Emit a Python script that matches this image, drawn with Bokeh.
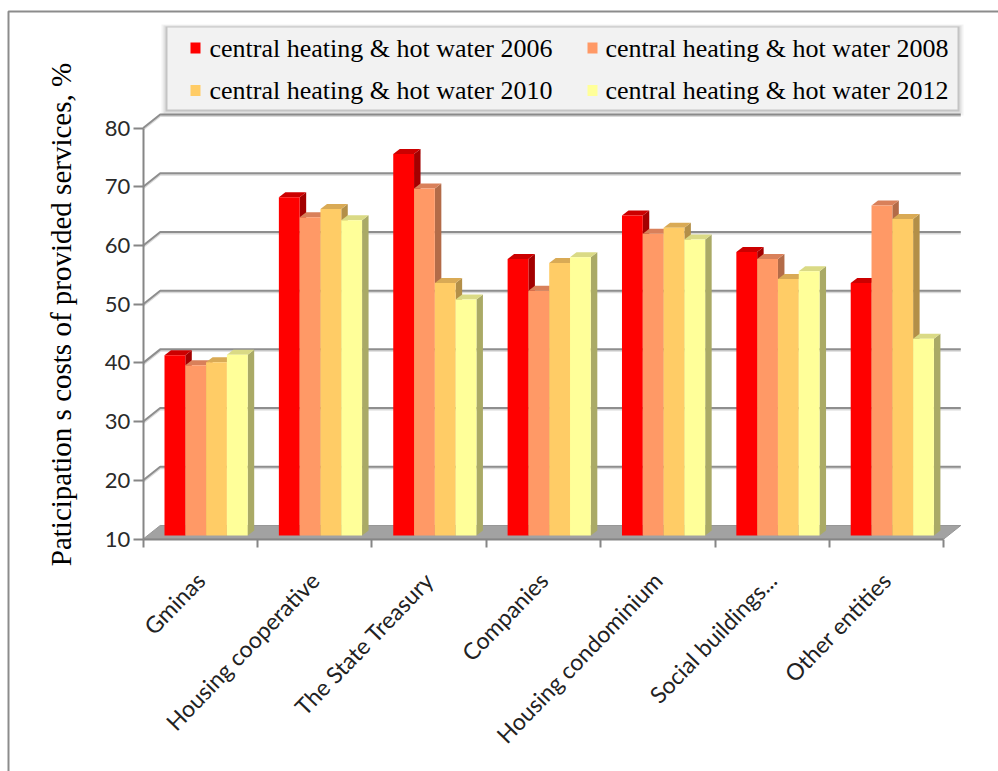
import math

from bokeh.core.properties import value
from bokeh.embed import file_html
from bokeh.models import FixedTicker, LinearAxis, Range1d
from bokeh.plotting import figure
from bokeh.resources import INLINE

# ---------------------------------------------------------------- data
categories = [
    "Gminas",
    "Housing cooperative",
    "The State Treasury",
    "Companies",
    "Housing condominium",
    "Social buildings...",
    "Other entities",
]
series_names = [
    "central heating & hot water 2006",
    "central heating & hot water 2008",
    "central heating & hot water 2010",
    "central heating & hot water 2012",
]
values_2006 = [40.7, 67.6, 75.0, 57.1, 64.5, 58.3, 53.0]
values_2008 = [39.0, 64.2, 69.1, 51.7, 61.4, 57.1, 66.2]
values_2010 = [39.5, 65.6, 53.0, 56.4, 62.4, 53.7, 63.9]
values_2012 = [40.8, 63.7, 50.2, 57.4, 60.4, 55.0, 43.5]
y_ticks = [10, 20, 30, 40, 50, 60, 70, 80]
y_title = "Paticipation s costs of provided services, %"

series_values = [values_2006, values_2008, values_2010, values_2012]
front_colors = ["#FF0000", "#FF9966", "#FFCC66", "#FFFF99"]
top_colors = ["#CC0000", "#D9805A", "#D9AA55", "#DADA85"]
side_colors = ["#A30000", "#B36B48", "#B38F48", "#AAAA66"]

# ---------------------------------------------------------------- geometry
W, H = 998, 771
X0, CAT = 142.7, 114.37      # front value axis position, pixels per category
Y10, UNIT = 538.5, 5.871     # pixel row of value 10, pixels per value unit


def sx(px):
    return (px - X0) / CAT


def sy(py):
    return 10 + (Y10 - py) / UNIT


def dx(d):
    return d / CAT


def dy(d):
    return d / UNIT


n = len(categories)
WDX, WDY = dx(17), dy(13.5)          # depth of the walls
BAR_W = dx(20.8)
GROUP_GAP = dx(21.3)
LIFT = dy(3.5)                       # bars stand a little back from the front edge
TDX, TDY = dx(6.5), dy(5)            # depth of a bar

p = figure(
    width=W, height=H,
    x_range=Range1d(sx(0), sx(W)), y_range=Range1d(sy(H), sy(0)),
    x_axis_type=None, y_axis_type=None,
    toolbar_location=None, output_backend="svg", min_border=0,
)
p.outline_line_color = None
p.background_fill_color = "white"
p.border_fill_color = "white"

# outer chart border
p.line([sx(8), sx(8), sx(W)], [sy(H), sy(11), sy(11)], line_color="#8c8c8c", line_width=2)

# floor
p.patch([0, n, n + WDX, WDX], [10, 10, 10 + WDY, 10 + WDY],
        fill_color="#a2a2a2", line_color="#979797", line_width=1)

# back wall gridlines with their side-wall diagonals
grid_xs, grid_ys = [], []
for t in y_ticks[1:]:
    grid_xs.append([0, WDX, n + WDX])
    grid_ys.append([t, t + WDY, t + WDY])
p.multi_line(grid_xs, [[y - dy(1.5) for y in ys] for ys in grid_ys],
             line_color="#d9d9d9", line_width=2)
p.multi_line(grid_xs, grid_ys, line_color="#8e8e8e", line_width=2)

# 3-D columns: side faces, then top faces, then front faces
side_xs, side_ys, side_c = [], [], []
top_xs, top_ys, top_c = [], [], []
for j, vals in enumerate(series_values):
    for i, v in enumerate(vals):
        xl = i + GROUP_GAP + j * BAR_W
        xr = xl + BAR_W
        bot = 10 + LIFT
        top = v + LIFT
        side_xs.append([xr, xr, xr + TDX, xr + TDX])
        side_ys.append([bot, top, top + TDY, bot + TDY])
        side_c.append(side_colors[j])
        top_xs.append([xl, xr, xr + TDX, xl + TDX])
        top_ys.append([top, top, top + TDY, top + TDY])
        top_c.append(top_colors[j])

p.patches(side_xs, side_ys, fill_color=side_c, line_color=None)
p.patches(top_xs, top_ys, fill_color=top_c, line_color=None)

for j, vals in enumerate(series_values):
    xs = [i + GROUP_GAP + (j + 0.5) * BAR_W for i in range(n)]
    tops = [v + LIFT for v in vals]
    p.vbar(x=xs, width=BAR_W, bottom=10 + LIFT, top=tops,
           fill_color=front_colors[j], line_color=None)

# value axis (front left edge)
yaxis = LinearAxis(fixed_location=0, bounds=(10, 80), ticker=FixedTicker(ticks=y_ticks))
yaxis.axis_line_color = "#868686"
yaxis.axis_line_width = 2
yaxis.major_tick_line_color = "#868686"
yaxis.major_tick_line_width = 2
yaxis.major_tick_out = 10
yaxis.major_tick_in = 0
yaxis.minor_tick_line_color = None
yaxis.major_label_text_font = "Lato"
yaxis.major_label_text_font_size = "22px"
yaxis.major_label_text_color = "#2a2a2a"
yaxis.major_label_standoff = 3
p.add_layout(yaxis, "left")

# category axis: boundary ticks
xaxis = LinearAxis(fixed_location=10, bounds=(0, n), ticker=FixedTicker(ticks=list(range(n + 1))))
xaxis.major_label_overrides = {i: "" for i in range(n + 1)}
xaxis.axis_line_color = "#868686"
xaxis.axis_line_width = 2
xaxis.major_tick_line_color = "#868686"
xaxis.major_tick_line_width = 2
xaxis.major_tick_out = 8
xaxis.major_tick_in = 0
xaxis.minor_tick_line_color = None
p.add_layout(xaxis, "below")

# category axis: rotated names
caxis = LinearAxis(fixed_location=10, ticker=FixedTicker(ticks=[i + 0.5 for i in range(n)]))
caxis.major_label_overrides = {i + 0.5: c for i, c in enumerate(categories)}
caxis.axis_line_color = None
caxis.major_tick_line_color = None
caxis.minor_tick_line_color = None
caxis.major_label_orientation = math.radians(46)
caxis.major_label_standoff = 31
caxis.major_label_text_font = "Lato"
caxis.major_label_text_font_size = "23px"
caxis.major_label_text_color = "#222222"
p.add_layout(caxis, "below")

# value axis title
p.text(x=[sx(60)], y=[sy(314)], text=[y_title], angle=math.pi / 2,
       text_font=value("Liberation Serif"), text_font_size="29px",
       text_align="center", text_baseline="middle", text_color="#000000")

# legend box with soft shadow
LL, LR, LT, LB = 167, 957, 27, 109
for k, a in [(6, 0.08), (4, 0.12), (2, 0.22)]:
    p.quad(left=sx(LL - k), right=sx(LR + k), top=sy(LT - k / 2), bottom=sy(LB + k),
           fill_color="#606060", fill_alpha=a, line_color=None)
p.quad(left=sx(LL), right=sx(LR), top=sy(LT), bottom=sy(LB),
       fill_color="#f2f2f2", line_color=None)

leg_sq_x = [195, 592, 195, 592]
leg_row_y = [47.5, 47.5, 90, 90]
leg_txt_x = [209, 605, 209, 605]
p.rect(x=[sx(v) for v in leg_sq_x], y=[sy(v) for v in leg_row_y],
       width=dx(10), height=dy(11), fill_color=front_colors, line_color=None)
p.text(x=[sx(v) for v in leg_txt_x], y=[sy(v) for v in leg_row_y], text=series_names,
       text_font=value("Liberation Serif"), text_font_size="26px",
       text_align="left", text_baseline="middle", text_color="#000000")

open("out.html", "w").write(file_html(p, INLINE))
